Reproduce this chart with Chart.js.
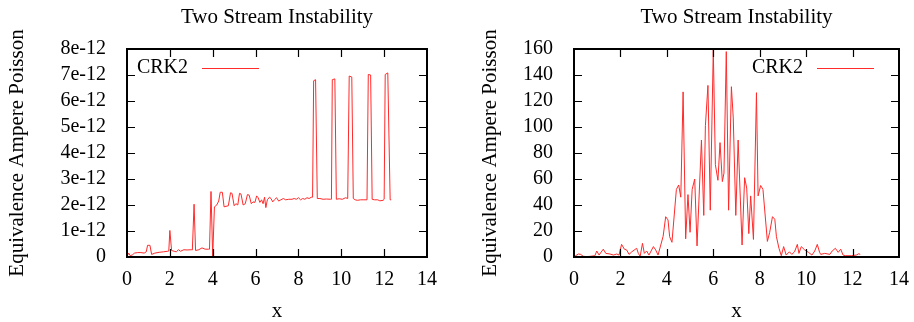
<!DOCTYPE html>
<html lang="en">
<head>
  <meta charset="UTF-8" />
  <title>Two Stream Instability</title>
  <script src="https://cdn.jsdelivr.net/npm/chart.js"></script>
  <style>
    body { margin: 0; background: #fff; }
    .row { display: flex; width: 914px; height: 322px; }
    .box { width: 457px; height: 322px; }
  </style>
</head>
<body>
  <div class="row">
    <div class="box"><canvas id="ampChart" width="457" height="322"></canvas></div>
    <div class="box"><canvas id="poissonChart" width="457" height="322"></canvas></div>
  </div>
  <script>
    // x positions and values, left panel (CRK2, tiny error scale)
    const leftX = [0.00, 0.08, 0.15, 0.25, 0.35, 0.50, 0.65, 0.80, 0.90, 0.96, 1.07, 1.15, 1.30, 1.50, 1.70, 1.90, 1.95, 2.00, 2.08, 2.20,
      2.30, 2.40, 2.50, 2.65, 2.80, 3.00, 3.05, 3.13, 3.20, 3.35, 3.50, 3.65, 3.80, 3.85, 3.92, 4.00, 4.08, 4.18, 4.28, 4.35,
      4.45, 4.53, 4.62, 4.73, 4.83, 4.90, 5.00, 5.08, 5.17, 5.25, 5.32, 5.42, 5.52, 5.62, 5.70, 5.80, 5.88, 5.97, 6.05, 6.12,
      6.20, 6.28, 6.35, 6.42, 6.48, 6.55, 6.65, 6.72, 6.80, 6.88, 6.98, 7.08, 7.18, 7.30, 7.40, 7.55, 7.70, 7.80, 7.90, 8.00,
      8.10, 8.20, 8.30, 8.40, 8.50, 8.60, 8.66, 8.71, 8.80, 8.88, 9.00, 9.15, 9.30, 9.50, 9.54, 9.58, 9.70, 9.77, 9.90, 10.05,
      10.20, 10.30, 10.37, 10.49, 10.56, 10.65, 10.75, 10.90, 11.05, 11.20, 11.26, 11.37, 11.44, 11.55, 11.70, 11.80, 11.95, 12.00, 12.05, 12.17,
      12.28, 12.33];
    const leftY = [0.02e-12, 0.15e-12, 0.05e-12, 0.08e-12, 0.15e-12, 0.17e-12, 0.17e-12, 0.15e-12, 0.20e-12, 0.45e-12, 0.45e-12, 0.10e-12, 0.15e-12, 0.18e-12, 0.20e-12, 0.22e-12, 0.23e-12, 1.02e-12, 0.25e-12, 0.22e-12,
      0.20e-12, 0.28e-12, 0.22e-12, 0.28e-12, 0.27e-12, 0.28e-12, 0.27e-12, 2.03e-12, 0.25e-12, 0.28e-12, 0.35e-12, 0.30e-12, 0.30e-12, 0.30e-12, 2.52e-12, 0.03e-12, 1.93e-12, 1.99e-12, 2.15e-12, 2.49e-12,
      2.49e-12, 1.93e-12, 1.95e-12, 1.97e-12, 2.47e-12, 2.45e-12, 1.97e-12, 2.05e-12, 2.00e-12, 2.45e-12, 2.42e-12, 2.00e-12, 2.05e-12, 2.40e-12, 2.38e-12, 2.05e-12, 2.12e-12, 2.10e-12, 2.35e-12, 2.28e-12,
      2.10e-12, 2.20e-12, 2.05e-12, 2.30e-12, 1.90e-12, 2.20e-12, 2.30e-12, 2.25e-12, 2.12e-12, 2.20e-12, 2.28e-12, 2.15e-12, 2.20e-12, 2.25e-12, 2.20e-12, 2.22e-12, 2.22e-12, 2.25e-12, 2.22e-12, 2.28e-12,
      2.20e-12, 2.25e-12, 2.22e-12, 2.28e-12, 2.25e-12, 2.30e-12, 2.30e-12, 6.78e-12, 6.82e-12, 2.25e-12, 2.25e-12, 2.22e-12, 2.23e-12, 2.22e-12, 2.22e-12, 6.82e-12, 6.85e-12, 2.22e-12, 2.24e-12, 2.22e-12,
      2.28e-12, 2.25e-12, 6.96e-12, 6.92e-12, 2.25e-12, 2.20e-12, 2.18e-12, 2.20e-12, 2.20e-12, 2.20e-12, 7.02e-12, 7.00e-12, 2.22e-12, 2.20e-12, 2.20e-12, 2.16e-12, 2.18e-12, 2.22e-12, 7.02e-12, 7.08e-12,
      2.20e-12, 2.20e-12];

    // x positions and values, right panel
    const rightX = [0.00, 0.07, 0.19, 0.29, 0.40, 0.55, 0.69, 0.90, 0.98, 1.08, 1.26, 1.37, 1.55, 1.70, 1.84, 1.94, 2.05, 2.17, 2.27, 2.37,
      2.49, 2.70, 2.77, 2.85, 2.95, 3.03, 3.13, 3.23, 3.42, 3.52, 3.62, 3.75, 3.84, 3.95, 4.05, 4.12, 4.22, 4.41, 4.51, 4.60,
      4.70, 4.81, 4.91, 5.00, 5.09, 5.20, 5.30, 5.49, 5.59, 5.66, 5.77, 5.87, 6.00, 6.09, 6.20, 6.29, 6.39, 6.46, 6.56, 6.66,
      6.78, 6.86, 6.97, 7.07, 7.24, 7.35, 7.44, 7.53, 7.61, 7.73, 7.86, 7.93, 8.04, 8.14, 8.33, 8.43, 8.55, 8.65, 8.72, 8.83,
      8.93, 9.03, 9.14, 9.28, 9.38, 9.50, 9.62, 9.69, 9.79, 9.94, 10.10, 10.25, 10.37, 10.48, 10.58, 10.63, 10.80, 11.02, 11.12, 11.26,
      11.38, 11.49, 11.59, 11.69, 11.95, 12.16, 12.27, 12.33];
    const rightY = [0.5, 1.0, 2.3, 2.0, 0.5, 0.3, 0.5, 1.0, 4.6, 1.5, 6.0, 2.8, 2.3, 1.5, 2.3, 1.5, 9.7, 6.0, 5.4, 2.0,
      4.0, 6.7, 2.8, 0.5, 10.5, 2.8, 4.6, 1.5, 8.0, 5.4, 1.5, 10.0, 16.0, 31.0, 28.5, 15.6, 11.3, 52.0, 55.4, 46.0,
      127.0, 14.0, 48.0, 19.0, 52.0, 60.0, 8.5, 90.0, 32.0, 101.0, 132.0, 36.0, 159.5, 71.0, 59.0, 88.0, 58.0, 64.5, 158.0, 36.0,
      131.0, 107.0, 32.0, 90.0, 9.2, 61.0, 53.0, 18.0, 47.0, 13.5, 126.4, 47.0, 55.0, 52.0, 12.0, 19.0, 31.0, 29.0, 15.6, 6.7,
      1.0, 8.0, 1.5, 4.0, 2.0, 4.0, 9.7, 2.8, 8.0, 5.4, 3.6, 1.5, 4.6, 9.7, 3.6, 2.0, 2.8, 2.0, 4.6, 6.7,
      3.6, 6.0, 1.5, 1.0, 1.0, 1.5, 2.5, 2.0];

    const xTicks = [0, 14, 2];      // min, max, step
    const leftTicks = [0, 8e-12, 1e-12];
    const rightTicks = [0, 160, 20];

    const serif = '"Liberation Serif", "Times New Roman", Times, "DejaVu Serif", serif';
    Chart.defaults.color = '#000';
    Chart.defaults.font.family = serif;

    // gnuplot-like frame: border on all sides, inward ticks mirrored, title over the plot, key with text then line
    const gnuFrame = {
      id: 'gnuFrame',
      afterDatasetsDraw(chart, args, opts) {
        const { ctx, chartArea: a, scales: { x, y } } = chart;
        ctx.save();
        ctx.strokeStyle = '#000';
        ctx.lineWidth = 1.2;
        ctx.beginPath();
        x.ticks.forEach(t => {
          const px = Math.round(x.getPixelForValue(t.value)) + 0.5;
          if (px <= a.left + 2 || px >= a.right - 2) return;
          ctx.moveTo(px, a.bottom); ctx.lineTo(px, a.bottom - 8);
          ctx.moveTo(px, a.top); ctx.lineTo(px, a.top + 8);
        });
        y.ticks.forEach(t => {
          const py = Math.round(y.getPixelForValue(t.value)) + 0.5;
          if (py <= a.top + 2 || py >= a.bottom - 2) return;
          ctx.moveTo(a.left, py); ctx.lineTo(a.left + 8, py);
          ctx.moveTo(a.right, py); ctx.lineTo(a.right - 8, py);
        });
        ctx.stroke();
        ctx.lineWidth = 2;
        ctx.strokeRect(a.left, a.top, a.right - a.left, a.bottom - a.top);

        ctx.font = '21px ' + serif;
        ctx.fillStyle = '#000';
        ctx.textAlign = 'center';
        ctx.textBaseline = 'middle';
        ctx.fillText(opts.title, (a.left + a.right) / 2, opts.titleY);

        const ds = chart.data.datasets[0];
        ctx.font = '20px ' + serif;
        ctx.textAlign = 'right';
        ctx.fillText(ds.label, opts.textRight, opts.y);
        ctx.strokeStyle = ds.borderColor;
        ctx.lineWidth = 1;
        ctx.beginPath();
        ctx.moveTo(opts.textRight + 14, opts.y + 0.5);
        ctx.lineTo(opts.textRight + 71, opts.y + 0.5);
        ctx.stroke();
        ctx.restore();
      }
    };

    function points(xs, ys) {
      return xs.map((v, i) => ({ x: v, y: ys[i] }));
    }

    function makeChart(id, xs, ys, yTicks, cfg) {
      return new Chart(document.getElementById(id), {
        type: 'line',
        data: {
          datasets: [{
            label: 'CRK2',
            data: points(xs, ys),
            borderColor: '#ff2a2a',
            borderWidth: 1,
            pointRadius: 0,
            tension: 0
          }]
        },
        options: {
          responsive: false,
          animation: false,
          layout: { padding: { left: 0, right: cfg.padRight, top: 49, bottom: 0 } },
          plugins: {
            legend: { display: false },
            tooltip: { enabled: false },
            title: { display: false },
            gnuFrame: cfg.key
          },
          scales: {
            x: {
              type: 'linear',
              min: xTicks[0], max: xTicks[1],
              ticks: { stepSize: xTicks[2], padding: 3, font: { size: 20, family: serif }, maxRotation: 0, autoSkip: false },
              grid: { display: false },
              border: { display: false },
              title: { display: true, text: 'x', font: { size: 21, lineHeight: 1, family: serif }, padding: { top: 0, bottom: 0 } },
              afterFit(s) { s.height = 65; }
            },
            y: {
              type: 'linear',
              min: yTicks[0], max: yTicks[1],
              ticks: { stepSize: yTicks[2], padding: 13, font: { size: 20, family: serif }, callback: cfg.fmt, autoSkip: false },
              grid: { display: false },
              border: { display: false },
              title: {
                display: true, text: 'Equivalence Ampere Poisson',
                font: { size: 21, lineHeight: 1, family: serif }, padding: { top: cfg.titlePad, bottom: 0 }
              },
              afterFit(s) { s.width = cfg.axisWidth; }
            }
          }
        },
        plugins: [gnuFrame]
      });
    }

    makeChart('ampChart', leftX, leftY, leftTicks, {
      padRight: 30, axisWidth: 127, titlePad: 7,
      key: { title: 'Two Stream Instability', titleY: 17, textRight: 188, y: 68 },
      fmt: v => { const n = Math.round(v * 1e12); return n === 0 ? '0' : n + 'e-12'; }
    });
    makeChart('poissonChart', rightX, rightY, rightTicks, {
      padRight: 15, axisWidth: 117, titlePad: 23,
      key: { title: 'Two Stream Instability', titleY: 17, textRight: 346, y: 68 },
      fmt: v => String(v)
    });
  </script>
</body>
</html>
